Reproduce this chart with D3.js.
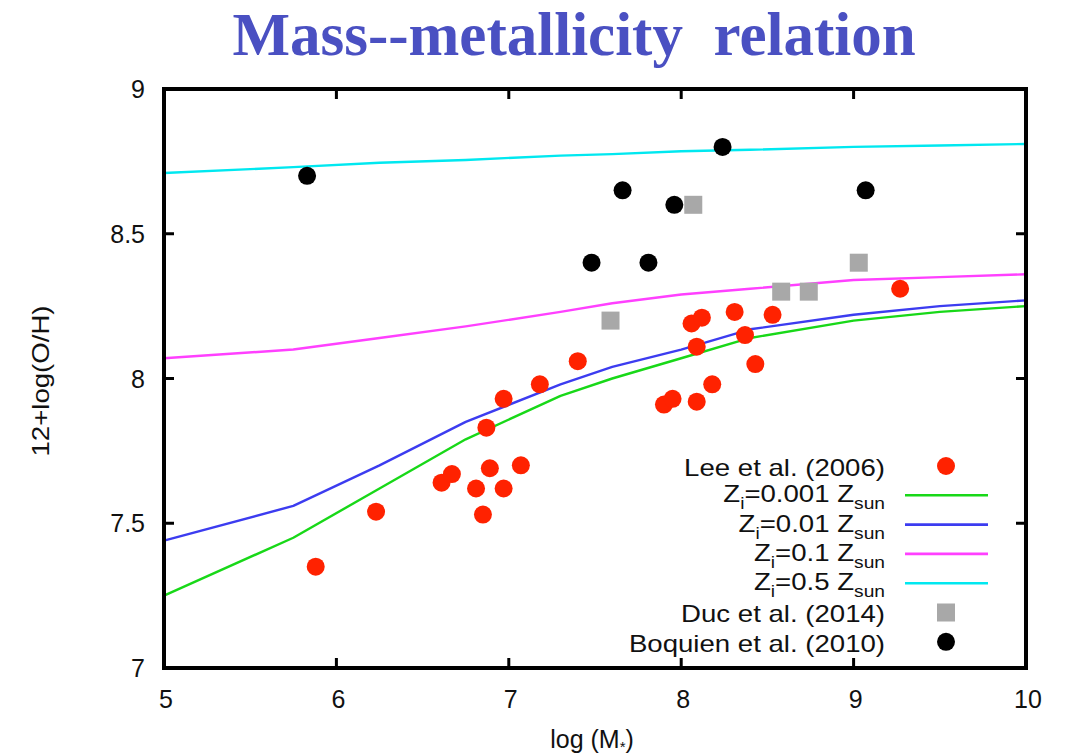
<!DOCTYPE html>
<html>
<head>
<meta charset="utf-8">
<script src="https://cdn.jsdelivr.net/npm/d3@7"></script>
<style>
  body { margin: 0; background: #fff; }
  text { font-family: "Liberation Sans", Arial, sans-serif; fill: #111; }
</style>
</head>
<body>
<svg id="chart" width="1070" height="756"></svg>
<script>
// log stellar mass vs 12+log(O/H)
var lee = [
  [5.88, 7.35], [6.23, 7.54], [6.61, 7.64], [6.67, 7.67], [6.81, 7.62],
  [6.85, 7.53], [6.87, 7.83], [6.89, 7.69], [6.97, 7.93], [6.97, 7.62],
  [7.07, 7.70], [7.18, 7.98], [7.40, 8.06], [7.90, 7.91], [7.95, 7.93],
  [8.06, 8.19], [8.09, 8.11], [8.09, 7.92], [8.12, 8.21], [8.18, 7.98],
  [8.31, 8.23], [8.37, 8.15], [8.43, 8.05], [8.53, 8.22], [9.27, 8.31]
];
var duc = [[7.59, 8.20], [8.07, 8.60], [8.58, 8.30], [8.74, 8.30], [9.03, 8.40]];
var boquien = [
  [5.83, 8.70], [7.48, 8.40], [7.66, 8.65], [7.81, 8.40],
  [7.96, 8.60], [8.24, 8.80], [9.07, 8.65]
];

var modelMass = [5, 5.75, 6.25, 6.75, 7.3, 7.6, 8, 8.4, 9, 9.5, 10];
var zi0001 = [7.25, 7.45, 7.62, 7.79, 7.94, 8.00, 8.07, 8.14, 8.20, 8.23, 8.25];
var zi001  = [7.44, 7.56, 7.70, 7.85, 7.98, 8.04, 8.10, 8.17, 8.22, 8.25, 8.27];
var zi01   = [8.07, 8.10, 8.14, 8.18, 8.23, 8.26, 8.29, 8.31, 8.34, 8.35, 8.36];
var zi05   = [8.71, 8.73, 8.745, 8.755, 8.77, 8.775, 8.785, 8.79, 8.80, 8.805, 8.81];

var xTicks = [5, 6, 7, 8, 9, 10];
var yTicks = [7, 7.5, 8, 8.5, 9];

var svg = d3.select("#chart"),
    pLeft = 164, pRight = 1026, pTop = 89, pBottom = 668;

var x = d3.scaleLinear().domain([5, 10]).range([pLeft, pRight]),
    y = d3.scaleLinear().domain([7, 9]).range([pBottom, pTop]);

svg.append("text")
    .attr("x", 574).attr("y", 55)
    .attr("text-anchor", "middle")
    .style("font-family", "'Liberation Serif', 'Times New Roman', serif")
    .style("font-weight", "bold")
    .style("font-size", "61px")
    .style("fill", "#4a50c2")
    .style("white-space", "pre")
    .text("Mass--metallicity  relation");

// inward ticks on all four sides (gnuplot style)
var g = svg.append("g");
g.selectAll(".xt").data(xTicks.slice(1, -1)).enter().append("path")
    .attr("d", function(d) { return "M" + x(d) + "," + pBottom + "v-10M" + x(d) + "," + pTop + "v10"; })
    .style("stroke", "#000").style("stroke-width", 3);
g.selectAll(".yt").data(yTicks.slice(1, -1)).enter().append("path")
    .attr("d", function(d) { return "M" + pLeft + "," + y(d) + "h10M" + pRight + "," + y(d) + "h-10"; })
    .style("stroke", "#000").style("stroke-width", 3);

g.selectAll(".xl").data(xTicks).enter().append("text")
    .attr("x", function(d) { return x(d) + 2; })
    .attr("y", pBottom + 40)
    .attr("text-anchor", "middle")
    .style("font-size", "25px")
    .text(function(d) { return d; });
g.selectAll(".yl").data(yTicks).enter().append("text")
    .attr("x", pLeft - 19)
    .attr("y", function(d) { return y(d) + 9; })
    .attr("text-anchor", "end")
    .style("font-size", "25px")
    .text(function(d) { return d; });

var xl = svg.append("text")
    .attr("x", 592).attr("y", 748)
    .attr("text-anchor", "middle")
    .style("font-size", "25px")
    .text("log (M");
xl.append("tspan").attr("dy", 4).style("font-size", "15px").text("*");
xl.append("tspan").attr("dy", -4).text(")");

svg.append("text")
    .attr("transform", "translate(49,381) rotate(-90) scale(1.2,1)")
    .attr("text-anchor", "middle")
    .style("font-size", "23px")
    .text("12+log(O/H)");

// model curves, straight segments between computed masses
var models = [
  {vals: zi0001, color: "#18d818", label: "0.001"},
  {vals: zi001,  color: "#3c3cf0", label: "0.01"},
  {vals: zi01,   color: "#ff40ff", label: "0.1"},
  {vals: zi05,   color: "#00e8f0", label: "0.5"}
];
var line = d3.line()
    .x(function(d) { return x(d[0]); })
    .y(function(d) { return y(d[1]); });

svg.append("g").selectAll("path").data(models).enter().append("path")
    .attr("d", function(m) { return line(modelMass.map(function(v, i) { return [v, m.vals[i]]; })); })
    .style("fill", "none")
    .style("stroke", function(m) { return m.color; })
    .style("stroke-width", 2.4)
    .style("stroke-linejoin", "round");

svg.append("g").selectAll("circle").data(lee).enter().append("circle")
    .attr("cx", function(d) { return x(d[0]); })
    .attr("cy", function(d) { return y(d[1]); })
    .attr("r", 9)
    .style("fill", "#ff2200");

svg.append("g").selectAll("rect").data(duc).enter().append("rect")
    .attr("x", function(d) { return x(d[0]) - 9; })
    .attr("y", function(d) { return y(d[1]) - 9; })
    .attr("width", 18).attr("height", 18)
    .style("fill", "#a8a8a8");

svg.append("g").selectAll("circle").data(boquien).enter().append("circle")
    .attr("cx", function(d) { return x(d[0]); })
    .attr("cy", function(d) { return y(d[1]); })
    .attr("r", 9)
    .style("fill", "#000");

// legend: labels right-aligned at legX, stretched a bit horizontally
var legX = 885, symX = 946, rowH = 29.3, legY = 466;
var leg = svg.append("g");
var legLabels = leg.append("g").attr("transform", "translate(" + legX + ",0) scale(1.2,1)");

function legText(row, dy) {
  return legLabels.append("text")
      .attr("x", 0)
      .attr("y", legY + row * rowH + dy)
      .attr("text-anchor", "end")
      .style("font-size", "23px");
}

legText(0, 10).text("Lee et al. (2006)");
leg.append("circle").attr("cx", symX).attr("cy", legY).attr("r", 9).style("fill", "#ff2200");

models.forEach(function(m, i) {
  var row = i + 1,
      t = legText(row, 7);
  t.append("tspan").text("Z");
  t.append("tspan").attr("dy", 7).style("font-size", "16px").text("i");
  t.append("tspan").attr("dy", -7).text("=" + m.label + " Z");
  t.append("tspan").attr("dy", 7).style("font-size", "16px").text("sun");
  leg.append("line")
      .attr("x1", 905).attr("x2", 988)
      .attr("y1", legY + row * rowH).attr("y2", legY + row * rowH)
      .style("stroke", m.color).style("stroke-width", 2.6);
});

legText(5, 10).text("Duc et al. (2014)");
leg.append("rect").attr("x", symX - 9).attr("y", legY + 5 * rowH - 9)
    .attr("width", 18).attr("height", 18).style("fill", "#a8a8a8");
legText(6, 10).text("Boquien et al. (2010)");
leg.append("circle").attr("cx", symX).attr("cy", legY + 6 * rowH).attr("r", 9).style("fill", "#000");

// frame
svg.append("rect")
    .attr("x", pLeft).attr("y", pTop)
    .attr("width", pRight - pLeft).attr("height", pBottom - pTop)
    .style("fill", "none").style("stroke", "#000").style("stroke-width", 4);
</script>
</body>
</html>
